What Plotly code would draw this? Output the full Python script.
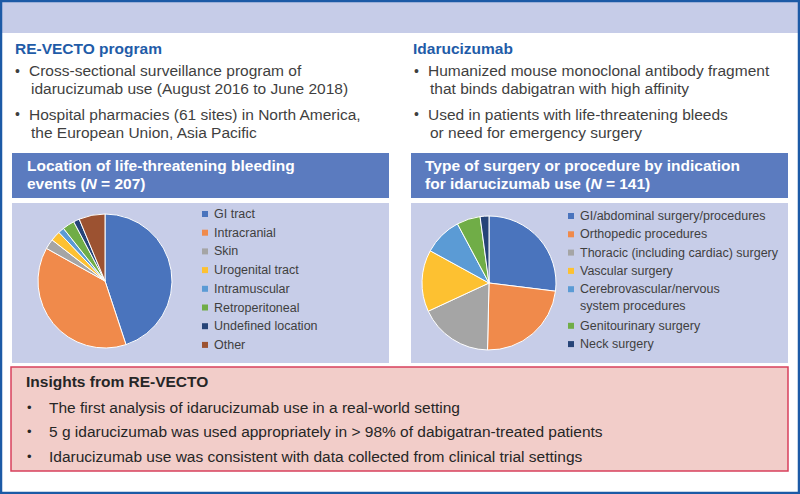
import plotly.graph_objects as go

W, H = 800, 494

# data
bleed_labels = ["GI tract", "Intracranial", "Skin", "Urogenital tract", "Intramuscular",
                "Retroperitoneal", "Undefined location", "Other"]
bleed_counts = [93, 79, 5, 5, 3, 6, 3, 13]
bleed_colors = ["#4a74bd", "#f08a4b", "#a5a5a5", "#fdc131", "#5b9bd5", "#70ad47", "#264478", "#9c5231"]

surgery_labels = ["GI/abdominal surgery/procedures", "Orthopedic procedures",
                  "Thoracic (including cardiac) surgery", "Vascular surgery",
                  "Cerebrovascular/nervous<br>system procedures", "Genitourinary surgery", "Neck surgery"]
surgery_counts = [38, 33, 25, 21, 13, 8, 3]
surgery_colors = ["#4a74bd", "#f08a4b", "#a5a5a5", "#fdc131", "#5b9bd5", "#70ad47", "#264478"]

left_bullets = [["Cross-sectional surveillance program of", "idarucizumab use (August 2016 to June 2018)"],
                ["Hospital pharmacies (61 sites) in North America,", "the European Union, Asia Pacific"]]
right_bullets = [["Humanized mouse monoclonal antibody fragment", "that binds dabigatran with high affinity"],
                 ["Used in patients with life-threatening bleeds", "or need for emergency surgery"]]
insights = ["The first analysis of idarucizumab use in a real-world setting",
            "5 g idarucizumab was used appropriately in > 98% of dabigatran-treated patients",
            "Idarucizumab use was consistent with data collected from clinical trial settings"]

FONT = "Liberation Sans, Arial, sans-serif"
TXT = "#3f3f3f"
BLUE = "#1f5ca8"
HEAD = "#5b7bbf"
LAV = "#c7cde8"


def fx(x):
    return x / W


def fy(y):
    return 1 - y / H


shapes = []
annotations = []


def rect(x0, y0, x1, y1, fill, line=None, lw=0):
    shapes.append(dict(type="rect", xref="paper", yref="paper",
                       x0=fx(x0), x1=fx(x1), y0=fy(y1), y1=fy(y0),
                       fillcolor=fill, line=dict(color=line or fill, width=lw), layer="below"))


def text(x, y, s, size=15.5, color=TXT, bold=False):
    if bold:
        s = "<b>" + s + "</b>"
    annotations.append(dict(x=fx(x), y=fy(y), xref="paper", yref="paper", text=s,
                            showarrow=False, xanchor="left", yanchor="middle",
                            font=dict(family=FONT, size=size, color=color)))


# background bands and boxes
rect(0, 0, 800, 33, "#c6cce8")
rect(12, 153, 389, 198, HEAD)
rect(411, 153, 788, 198, HEAD)
rect(12, 203, 389, 363, LAV)
rect(411, 203, 788, 363, LAV)
rect(11, 367, 788, 471, "#f2cdc9", "#d8405c", 1.5)
shapes.append(dict(type="rect", xref="paper", yref="paper", x0=fx(1), x1=fx(799), y0=fy(493), y1=fy(1),
                   line=dict(color="#1c5aa6", width=2.5), fillcolor="rgba(0,0,0,0)"))

# section titles and bullets
text(13, 48, "RE-VECTO program", 15.5, BLUE, True)
text(411, 48, "Idarucizumab", 15.5, BLUE, True)
for x0, bullets in [(13, left_bullets), (412, right_bullets)]:
    for i, lines in enumerate(bullets):
        y0 = 71 + i * 43
        text(x0, y0, "•", 14)
        text(x0 + 14, y0, lines[0])
        text(x0 + 16, y0 + 18, lines[1])

text(25, 165, "Location of life-threatening bleeding", 15.5, "white", True)
text(25, 183, "events (<i>N</i> = 207)", 15.5, "white", True)
text(423, 165, "Type of surgery or procedure by indication", 15.5, "white", True)
text(423, 183, "for idarucizumab use (<i>N</i> = 141)", 15.5, "white", True)

# legends
for i, (lab, col) in enumerate(zip(bleed_labels, bleed_colors)):
    y = 214 + i * 18.7
    rect(202, y - 3, 208, y + 3, col)
    text(212, y, lab, 12.5)

row = 0
for lab, col in zip(surgery_labels, surgery_colors):
    y = 216 + row * 18.3
    rect(568, y - 3, 574, y + 3, col)
    for k, part in enumerate(lab.split("<br>")):
        text(578, y + k * 16.5, part, 12.5)
    row += lab.count("<br>") + 1

# insights box
text(24, 381, "Insights from RE-VECTO", 15.5, "#262626", True)
for i, s in enumerate(insights):
    y = 407 + i * 24.5
    text(25, y, "•", 13, "#262626")
    text(47, y, s, 15.5, "#262626")

fig = go.Figure()
fig.add_trace(go.Pie(labels=bleed_labels, values=bleed_counts, sort=False, direction="clockwise",
                     rotation=0, textinfo="none", hoverinfo="label+value+percent",
                     marker=dict(colors=bleed_colors, line=dict(color="white", width=1)),
                     domain=dict(x=[fx(38), fx(172)], y=[fy(348), fy(214)]), showlegend=False))
fig.add_trace(go.Pie(labels=surgery_labels, values=surgery_counts, sort=False, direction="clockwise",
                     rotation=0, textinfo="none", hoverinfo="label+value+percent",
                     marker=dict(colors=surgery_colors, line=dict(color="white", width=1)),
                     domain=dict(x=[fx(422), fx(556)], y=[fy(350), fy(216)]), showlegend=False))

fig.update_layout(width=W, height=H, margin=dict(l=0, r=0, t=0, b=0),
                  paper_bgcolor="white", plot_bgcolor="white",
                  shapes=shapes, annotations=annotations, showlegend=False)
# page body has a default 8px margin; drop it so the figure fills the window
fig.write_html("out.html", config={"displayModeBar": False},
               post_script="document.body.style.margin='0';")
